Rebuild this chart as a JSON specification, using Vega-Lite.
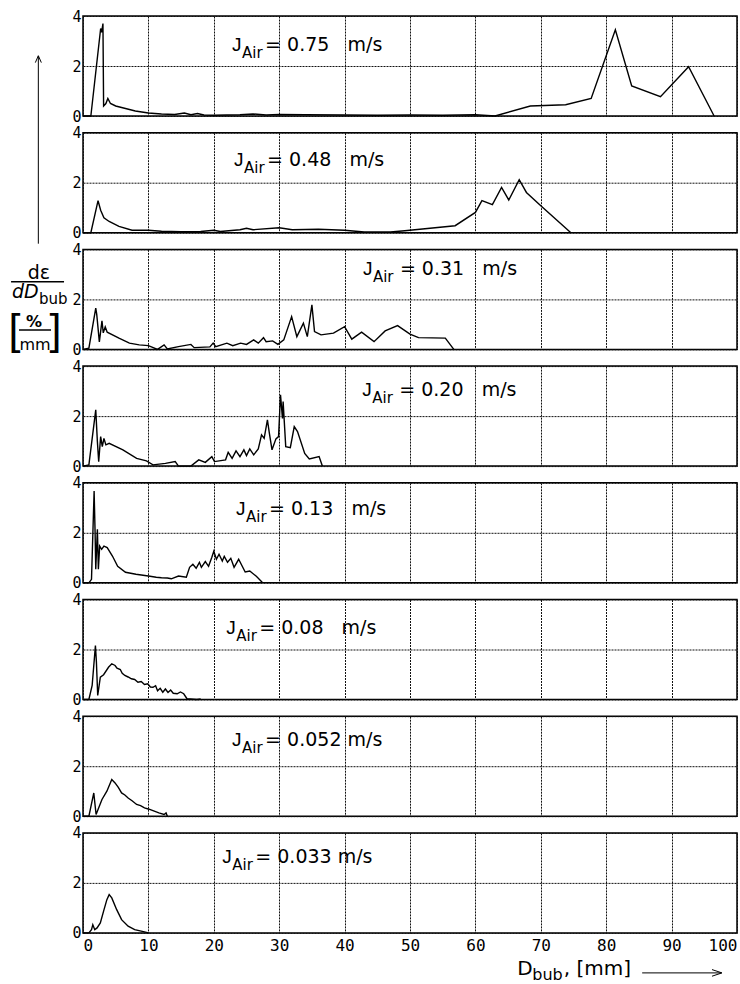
{
  "$schema": "https://vega.github.io/schema/vega-lite/v6.json",
  "background": "white",
  "padding": {"left": 7, "top": 8, "right": 0, "bottom": 0},
  "bounds": "flush",
  "spacing": 16.7,
  "config": {
    "view": {"stroke": "black", "strokeWidth": 1.5},
    "axis": {"gridColor": "#111", "gridDash": [2, 1], "gridWidth": 1, "domain": false, "ticks": false, "labelFont": "DejaVu Sans Mono", "labelColor": "black"},
    "axisY": {"labelFontSize": 15, "labelPadding": 2},
    "axisX": {"labelFontSize": 16, "labelPadding": 5, "labelFlush": true, "labelDx": 4},
    "text": {"font": "DejaVu Sans", "color": "black"},
    "line": {"color": "black", "strokeWidth": 1.4}
  },
  "datasets": {
    "p075": [{"d_bub":0,"density":0},{"d_bub":1.2,"density":0},{"d_bub":2.7,"density":3.5},{"d_bub":2.85,"density":3.35},{"d_bub":3.05,"density":3.7},{"d_bub":3.15,"density":0.4},{"d_bub":3.5,"density":0.5},{"d_bub":3.8,"density":0.7},{"d_bub":4.2,"density":0.5},{"d_bub":5,"density":0.4},{"d_bub":6.5,"density":0.3},{"d_bub":8,"density":0.2},{"d_bub":10,"density":0.12},{"d_bub":12,"density":0.08},{"d_bub":14,"density":0.06},{"d_bub":15.5,"density":0.12},{"d_bub":16.5,"density":0.05},{"d_bub":17.5,"density":0.1},{"d_bub":18.5,"density":0.04},{"d_bub":20,"density":0.03},{"d_bub":24,"density":0.05},{"d_bub":26,"density":0.08},{"d_bub":28,"density":0.04},{"d_bub":30,"density":0.06},{"d_bub":34,"density":0.05},{"d_bub":40,"density":0.04},{"d_bub":45,"density":0.03},{"d_bub":50,"density":0.04},{"d_bub":55,"density":0.03},{"d_bub":60,"density":0.05},{"d_bub":63,"density":0},{"d_bub":68.4,"density":0.4},{"d_bub":73.8,"density":0.45},{"d_bub":77.7,"density":0.7},{"d_bub":81.4,"density":3.45},{"d_bub":83.9,"density":1.2},{"d_bub":88.3,"density":0.77},{"d_bub":92.6,"density":1.97},{"d_bub":96.5,"density":0}],
    "p048": [{"d_bub":0,"density":0},{"d_bub":1.2,"density":0},{"d_bub":2.3,"density":1.28},{"d_bub":2.7,"density":0.9},{"d_bub":3.2,"density":0.6},{"d_bub":4,"density":0.45},{"d_bub":5.5,"density":0.25},{"d_bub":7.5,"density":0.1},{"d_bub":10,"density":0.1},{"d_bub":12,"density":0.06},{"d_bub":15,"density":0.04},{"d_bub":18,"density":0.05},{"d_bub":20,"density":0.1},{"d_bub":21,"density":0.05},{"d_bub":24,"density":0.12},{"d_bub":25,"density":0.18},{"d_bub":26,"density":0.12},{"d_bub":30,"density":0.2},{"d_bub":32,"density":0.12},{"d_bub":36,"density":0.14},{"d_bub":40,"density":0.1},{"d_bub":43,"density":0.03},{"d_bub":47,"density":0.03},{"d_bub":49.2,"density":0.08},{"d_bub":56.9,"density":0.28},{"d_bub":60,"density":0.81},{"d_bub":61,"density":1.28},{"d_bub":62.6,"density":1.12},{"d_bub":64,"density":1.81},{"d_bub":65.1,"density":1.31},{"d_bub":66.7,"density":2.12},{"d_bub":67.8,"density":1.61},{"d_bub":70,"density":1.08},{"d_bub":74.6,"density":0}],
    "p031": [{"d_bub":0,"density":0},{"d_bub":0.9,"density":0.05},{"d_bub":1.95,"density":1.65},{"d_bub":2.1,"density":1.4},{"d_bub":2.5,"density":0.3},{"d_bub":2.9,"density":1.14},{"d_bub":3.1,"density":0.66},{"d_bub":3.4,"density":0.9},{"d_bub":3.7,"density":0.69},{"d_bub":5.5,"density":0.45},{"d_bub":7.1,"density":0.25},{"d_bub":8.6,"density":0.18},{"d_bub":10,"density":0.15},{"d_bub":11.4,"density":0},{"d_bub":12.4,"density":0.18},{"d_bub":12.9,"density":0.02},{"d_bub":14.6,"density":0.11},{"d_bub":16.5,"density":0.2},{"d_bub":17,"density":0.07},{"d_bub":19.4,"density":0.1},{"d_bub":19.9,"density":0.25},{"d_bub":20.3,"density":0.11},{"d_bub":22,"density":0.25},{"d_bub":22.9,"density":0.15},{"d_bub":24.1,"density":0.25},{"d_bub":25,"density":0.2},{"d_bub":26.1,"density":0.38},{"d_bub":26.8,"density":0.25},{"d_bub":27.6,"density":0.47},{"d_bub":28,"density":0.31},{"d_bub":29,"density":0.34},{"d_bub":29.8,"density":0.2},{"d_bub":30.7,"density":0.38},{"d_bub":31.9,"density":1.31},{"d_bub":32.7,"density":0.51},{"d_bub":33.7,"density":1.05},{"d_bub":34.3,"density":0.51},{"d_bub":35,"density":1.78},{"d_bub":35.4,"density":0.71},{"d_bub":36.4,"density":0.58},{"d_bub":38.3,"density":0.65},{"d_bub":40,"density":0.91},{"d_bub":41.1,"density":0.41},{"d_bub":42.6,"density":0.69},{"d_bub":44.5,"density":0.31},{"d_bub":46.2,"density":0.74},{"d_bub":48.1,"density":0.95},{"d_bub":50,"density":0.61},{"d_bub":51.3,"density":0.47},{"d_bub":55.4,"density":0.45},{"d_bub":56.7,"density":0}],
    "p020": [{"d_bub":0,"density":0},{"d_bub":0.9,"density":0.05},{"d_bub":1.95,"density":2.25},{"d_bub":2.2,"density":0.98},{"d_bub":2.4,"density":0.18},{"d_bub":2.7,"density":1.18},{"d_bub":2.95,"density":0.78},{"d_bub":3.2,"density":1.11},{"d_bub":3.5,"density":0.85},{"d_bub":4,"density":0.91},{"d_bub":6.1,"density":0.65},{"d_bub":8.2,"density":0.31},{"d_bub":9.7,"density":0.21},{"d_bub":10.7,"density":0.05},{"d_bub":12.6,"density":0.11},{"d_bub":14.1,"density":0.18},{"d_bub":14.6,"density":0},{"d_bub":16.5,"density":0},{"d_bub":17.7,"density":0.25},{"d_bub":18.7,"density":0.15},{"d_bub":19.7,"density":0.38},{"d_bub":20.1,"density":0.18},{"d_bub":21.8,"density":0.25},{"d_bub":22.2,"density":0.55},{"d_bub":22.8,"density":0.31},{"d_bub":23.4,"density":0.61},{"d_bub":24,"density":0.38},{"d_bub":24.6,"density":0.65},{"d_bub":25,"density":0.42},{"d_bub":25.5,"density":0.69},{"d_bub":26.1,"density":0.45},{"d_bub":26.8,"density":0.69},{"d_bub":27.3,"density":1.25},{"d_bub":27.7,"density":1.11},{"d_bub":28.2,"density":1.85},{"d_bub":28.5,"density":1.31},{"d_bub":28.9,"density":0.65},{"d_bub":29.5,"density":1.09},{"d_bub":29.9,"density":1.18},{"d_bub":30.2,"density":2.85},{"d_bub":30.5,"density":1.91},{"d_bub":30.6,"density":2.58},{"d_bub":31,"density":0.78},{"d_bub":31.7,"density":0.74},{"d_bub":32.3,"density":1.58},{"d_bub":32.8,"density":1.38},{"d_bub":33.9,"density":0.51},{"d_bub":34.6,"density":0.29},{"d_bub":36.1,"density":0.38},{"d_bub":36.6,"density":0}],
    "p013": [{"d_bub":0,"density":0},{"d_bub":0.9,"density":0},{"d_bub":1.3,"density":0.14},{"d_bub":1.7,"density":3.67},{"d_bub":1.85,"density":2.0},{"d_bub":1.95,"density":0.54},{"d_bub":2.2,"density":2.14},{"d_bub":2.35,"density":0.54},{"d_bub":2.55,"density":1.47},{"d_bub":2.85,"density":1.34},{"d_bub":3.2,"density":1.47},{"d_bub":3.7,"density":1.41},{"d_bub":4.5,"density":1.07},{"d_bub":5.3,"density":0.66},{"d_bub":6.5,"density":0.42},{"d_bub":8.1,"density":0.34},{"d_bub":10,"density":0.27},{"d_bub":11.2,"density":0.22},{"d_bub":12,"density":0.2},{"d_bub":12.9,"density":0.19},{"d_bub":13.5,"density":0.16},{"d_bub":14.6,"density":0.27},{"d_bub":15.8,"density":0.22},{"d_bub":16.3,"density":0.62},{"d_bub":16.8,"density":0.74},{"d_bub":17.3,"density":0.58},{"d_bub":17.8,"density":0.82},{"d_bub":18.1,"density":0.62},{"d_bub":18.7,"density":0.85},{"d_bub":19.2,"density":0.66},{"d_bub":19.7,"density":1.02},{"d_bub":20,"density":1.26},{"d_bub":20.4,"density":0.94},{"d_bub":20.8,"density":1.14},{"d_bub":21.3,"density":0.87},{"d_bub":21.6,"density":1.06},{"d_bub":22.1,"density":0.82},{"d_bub":22.6,"density":0.98},{"d_bub":23.1,"density":0.62},{"d_bub":23.8,"density":0.94},{"d_bub":24.8,"density":0.43},{"d_bub":25.5,"density":0.47},{"d_bub":26.5,"density":0.26},{"d_bub":27.4,"density":0.02}],
    "p008": [{"d_bub":0,"density":0},{"d_bub":0.9,"density":0},{"d_bub":1.4,"density":0.56},{"d_bub":1.9,"density":2.16},{"d_bub":2.05,"density":1.5},{"d_bub":2.25,"density":0.16},{"d_bub":2.65,"density":0.89},{"d_bub":3.15,"density":0.99},{"d_bub":3.9,"density":1.29},{"d_bub":4.4,"density":1.43},{"d_bub":4.9,"density":1.36},{"d_bub":5.2,"density":1.25},{"d_bub":5.7,"density":1.2},{"d_bub":6.0,"density":1.05},{"d_bub":6.4,"density":0.96},{"d_bub":6.9,"density":0.9},{"d_bub":7.4,"density":0.83},{"d_bub":7.9,"density":0.8},{"d_bub":8.4,"density":0.69},{"d_bub":8.9,"density":0.72},{"d_bub":9.4,"density":0.6},{"d_bub":9.9,"density":0.63},{"d_bub":10.3,"density":0.5},{"d_bub":10.7,"density":0.49},{"d_bub":11.1,"density":0.55},{"d_bub":11.4,"density":0.35},{"d_bub":11.8,"density":0.45},{"d_bub":12.2,"density":0.29},{"d_bub":12.6,"density":0.42},{"d_bub":13.0,"density":0.28},{"d_bub":13.4,"density":0.38},{"d_bub":13.8,"density":0.25},{"d_bub":14.4,"density":0.23},{"d_bub":14.9,"density":0.3},{"d_bub":15.4,"density":0.23},{"d_bub":15.9,"density":0.03},{"d_bub":17.4,"density":0},{"d_bub":18,"density":0.02}],
    "p0052": [{"d_bub":0,"density":0},{"d_bub":0.9,"density":0},{"d_bub":1.65,"density":0.93},{"d_bub":2.0,"density":0.07},{"d_bub":2.9,"density":0.67},{"d_bub":3.65,"density":1.0},{"d_bub":4.4,"density":1.47},{"d_bub":4.9,"density":1.33},{"d_bub":5.4,"density":1.15},{"d_bub":5.9,"density":0.93},{"d_bub":6.4,"density":0.85},{"d_bub":6.9,"density":0.73},{"d_bub":7.5,"density":0.62},{"d_bub":8.2,"density":0.47},{"d_bub":8.8,"density":0.42},{"d_bub":9.4,"density":0.33},{"d_bub":10.1,"density":0.28},{"d_bub":10.9,"density":0.2},{"d_bub":11.6,"density":0.13},{"d_bub":12.4,"density":0.07},{"d_bub":12.7,"density":0.13},{"d_bub":12.9,"density":0}],
    "p0033": [{"d_bub":0,"density":0},{"d_bub":0.9,"density":0},{"d_bub":1.3,"density":0.13},{"d_bub":1.5,"density":0.33},{"d_bub":1.8,"density":0.13},{"d_bub":2.15,"density":0.2},{"d_bub":2.65,"density":0.4},{"d_bub":3.15,"density":0.87},{"d_bub":3.65,"density":1.33},{"d_bub":4.0,"density":1.53},{"d_bub":4.4,"density":1.4},{"d_bub":5.15,"density":0.93},{"d_bub":5.9,"density":0.53},{"d_bub":6.9,"density":0.27},{"d_bub":7.9,"density":0.13},{"d_bub":9.4,"density":0.04},{"d_bub":10,"density":0}]
  },
  "vconcat": [
    {"width": 654, "height": 100, "layer": [
      {"data": {"name": "p075"}, "mark": {"type": "line"}, "encoding": {
        "x": {"field": "d_bub", "type": "quantitative", "scale": {"domain": [0, 100], "nice": false}, "axis": {"values": [0,10,20,30,40,50,60,70,80,90,100], "labels": false, "title": null}},
        "y": {"field": "density", "type": "quantitative", "scale": {"domain": [0, 4], "nice": false}, "axis": {"values": [0,2,4], "title": null}}}},
      {"data": {"values": [{}]}, "mark": {"type": "text", "text": "J", "align": "left", "baseline": "alphabetic", "fontSize": 19, "font": "Liberation Sans"}, "encoding": {"x": {"datum": 22.8, "type": "quantitative", "scale": {"domain": [0, 100]}}, "y": {"datum": 2.6, "type": "quantitative", "scale": {"domain": [0, 4]}}}},
      {"data": {"values": [{}]}, "mark": {"type": "text", "text": "Air", "align": "left", "baseline": "alphabetic", "fontSize": 15, "dx": 10, "dy": 7}, "encoding": {"x": {"datum": 22.8, "type": "quantitative", "scale": {"domain": [0, 100]}}, "y": {"datum": 2.6, "type": "quantitative", "scale": {"domain": [0, 4]}}}},
      {"data": {"values": [{}]}, "mark": {"type": "text", "text": "= 0.75\u00a0\u00a0\u00a0m/s", "align": "left", "baseline": "alphabetic", "fontSize": 19, "dx": 33}, "encoding": {"x": {"datum": 22.8, "type": "quantitative", "scale": {"domain": [0, 100]}}, "y": {"datum": 2.6, "type": "quantitative", "scale": {"domain": [0, 4]}}}}
    ]},
    {"width": 654, "height": 100, "layer": [
      {"data": {"name": "p048"}, "mark": {"type": "line"}, "encoding": {
        "x": {"field": "d_bub", "type": "quantitative", "scale": {"domain": [0, 100], "nice": false}, "axis": {"values": [0,10,20,30,40,50,60,70,80,90,100], "labels": false, "title": null}},
        "y": {"field": "density", "type": "quantitative", "scale": {"domain": [0, 4], "nice": false}, "axis": {"values": [0,2,4], "title": null}}}},
      {"data": {"values": [{}]}, "mark": {"type": "text", "text": "J", "align": "left", "baseline": "alphabetic", "fontSize": 19, "font": "Liberation Sans"}, "encoding": {"x": {"datum": 23.1, "type": "quantitative", "scale": {"domain": [0, 100]}}, "y": {"datum": 2.65, "type": "quantitative", "scale": {"domain": [0, 4]}}}},
      {"data": {"values": [{}]}, "mark": {"type": "text", "text": "Air", "align": "left", "baseline": "alphabetic", "fontSize": 15, "dx": 10, "dy": 7}, "encoding": {"x": {"datum": 23.1, "type": "quantitative", "scale": {"domain": [0, 100]}}, "y": {"datum": 2.65, "type": "quantitative", "scale": {"domain": [0, 4]}}}},
      {"data": {"values": [{}]}, "mark": {"type": "text", "text": "= 0.48\u00a0\u00a0\u00a0m/s", "align": "left", "baseline": "alphabetic", "fontSize": 19, "dx": 33}, "encoding": {"x": {"datum": 23.1, "type": "quantitative", "scale": {"domain": [0, 100]}}, "y": {"datum": 2.65, "type": "quantitative", "scale": {"domain": [0, 4]}}}},
      {"data": {"values": [{}]}, "mark": {"type": "rule", "color": "black", "strokeWidth": 1, "clip": false}, "encoding": {"x": {"datum": -6.83, "type": "quantitative", "scale": {"domain": [0, 100]}}, "y": {"datum": -0.44, "type": "quantitative", "scale": {"domain": [0, 4]}}, "y2": {"datum": 7.06}}},
      {"data": {"values": [{}]}, "mark": {"type": "point", "shape": "M-1,2.3L0,0L1,2.3", "filled": false, "stroke": "black", "strokeWidth": 1, "opacity": 1, "size": 36, "clip": false}, "encoding": {"x": {"datum": -6.83, "type": "quantitative", "scale": {"domain": [0, 100]}}, "y": {"datum": 7.08, "type": "quantitative", "scale": {"domain": [0, 4]}}}}
    ]},
    {"width": 654, "height": 100, "layer": [
      {"data": {"name": "p031"}, "mark": {"type": "line"}, "encoding": {
        "x": {"field": "d_bub", "type": "quantitative", "scale": {"domain": [0, 100], "nice": false}, "axis": {"values": [0,10,20,30,40,50,60,70,80,90,100], "labels": false, "title": null}},
        "y": {"field": "density", "type": "quantitative", "scale": {"domain": [0, 4], "nice": false}, "axis": {"values": [0,2,4], "title": null}}}},
      {"data": {"values": [{}]}, "mark": {"type": "text", "text": "J", "align": "left", "baseline": "alphabetic", "fontSize": 19, "font": "Liberation Sans"}, "encoding": {"x": {"datum": 42.8, "type": "quantitative", "scale": {"domain": [0, 100]}}, "y": {"datum": 2.98, "type": "quantitative", "scale": {"domain": [0, 4]}}}},
      {"data": {"values": [{}]}, "mark": {"type": "text", "text": "Air", "align": "left", "baseline": "alphabetic", "fontSize": 15, "dx": 10, "dy": 7}, "encoding": {"x": {"datum": 42.8, "type": "quantitative", "scale": {"domain": [0, 100]}}, "y": {"datum": 2.98, "type": "quantitative", "scale": {"domain": [0, 4]}}}},
      {"data": {"values": [{}]}, "mark": {"type": "text", "text": "= 0.31\u00a0\u00a0\u00a0m/s", "align": "left", "baseline": "alphabetic", "fontSize": 19, "dx": 37}, "encoding": {"x": {"datum": 42.8, "type": "quantitative", "scale": {"domain": [0, 100]}}, "y": {"datum": 2.98, "type": "quantitative", "scale": {"domain": [0, 4]}}}},
      {"data": {"values": [{}]}, "mark": {"type": "text", "text": "dε", "align": "center", "baseline": "alphabetic", "fontSize": 19, "clip": false}, "encoding": {"x": {"datum": -6.73, "type": "quantitative", "scale": {"domain": [0, 100]}}, "y": {"datum": 2.82, "type": "quantitative", "scale": {"domain": [0, 4]}}}},
      {"data": {"values": [{}]}, "mark": {"type": "rule", "color": "black", "strokeWidth": 1.5, "clip": false}, "encoding": {"x": {"datum": -11.0, "type": "quantitative", "scale": {"domain": [0, 100]}}, "x2": {"datum": -2.9}, "y": {"datum": 2.71, "type": "quantitative", "scale": {"domain": [0, 4]}}}},
      {"data": {"values": [{}]}, "mark": {"type": "text", "text": "dD", "align": "left", "baseline": "alphabetic", "fontSize": 19, "fontStyle": "italic", "clip": false}, "encoding": {"x": {"datum": -10.86, "type": "quantitative", "scale": {"domain": [0, 100]}}, "y": {"datum": 2.06, "type": "quantitative", "scale": {"domain": [0, 4]}}}},
      {"data": {"values": [{}]}, "mark": {"type": "text", "text": "bub", "align": "left", "baseline": "alphabetic", "fontSize": 15, "clip": false}, "encoding": {"x": {"datum": -6.73, "type": "quantitative", "scale": {"domain": [0, 100]}}, "y": {"datum": 1.82, "type": "quantitative", "scale": {"domain": [0, 4]}}}},
      {"data": {"values": [{}]}, "mark": {"type": "text", "text": "[", "align": "center", "baseline": "alphabetic", "fontSize": 43, "font": "Liberation Sans", "clip": false}, "encoding": {"x": {"datum": -10.47, "type": "quantitative", "scale": {"domain": [0, 100]}}, "y": {"datum": 0.22, "type": "quantitative", "scale": {"domain": [0, 4]}}}},
      {"data": {"values": [{}]}, "mark": {"type": "text", "text": "]", "align": "center", "baseline": "alphabetic", "fontSize": 43, "font": "Liberation Sans", "clip": false}, "encoding": {"x": {"datum": -4.2, "type": "quantitative", "scale": {"domain": [0, 100]}}, "y": {"datum": 0.22, "type": "quantitative", "scale": {"domain": [0, 4]}}}},
      {"data": {"values": [{}]}, "mark": {"type": "text", "text": "%", "align": "center", "baseline": "alphabetic", "fontSize": 16, "fontWeight": "bold", "clip": false}, "encoding": {"x": {"datum": -7.49, "type": "quantitative", "scale": {"domain": [0, 100]}}, "y": {"datum": 0.9, "type": "quantitative", "scale": {"domain": [0, 4]}}}},
      {"data": {"values": [{}]}, "mark": {"type": "rule", "color": "black", "strokeWidth": 1.5, "clip": false}, "encoding": {"x": {"datum": -9.79, "type": "quantitative", "scale": {"domain": [0, 100]}}, "x2": {"datum": -4.89}, "y": {"datum": 0.78, "type": "quantitative", "scale": {"domain": [0, 4]}}}},
      {"data": {"values": [{}]}, "mark": {"type": "text", "text": "mm", "align": "center", "baseline": "alphabetic", "fontSize": 16, "clip": false}, "encoding": {"x": {"datum": -7.34, "type": "quantitative", "scale": {"domain": [0, 100]}}, "y": {"datum": -0.02, "type": "quantitative", "scale": {"domain": [0, 4]}}}}
    ]},
    {"width": 654, "height": 100, "layer": [
      {"data": {"name": "p020"}, "mark": {"type": "line"}, "encoding": {
        "x": {"field": "d_bub", "type": "quantitative", "scale": {"domain": [0, 100], "nice": false}, "axis": {"values": [0,10,20,30,40,50,60,70,80,90,100], "labels": false, "title": null}},
        "y": {"field": "density", "type": "quantitative", "scale": {"domain": [0, 4], "nice": false}, "axis": {"values": [0,2,4], "title": null}}}},
      {"data": {"values": [{}]}, "mark": {"type": "text", "text": "J", "align": "left", "baseline": "alphabetic", "fontSize": 19, "font": "Liberation Sans"}, "encoding": {"x": {"datum": 42.7, "type": "quantitative", "scale": {"domain": [0, 100]}}, "y": {"datum": 2.8, "type": "quantitative", "scale": {"domain": [0, 4]}}}},
      {"data": {"values": [{}]}, "mark": {"type": "text", "text": "Air", "align": "left", "baseline": "alphabetic", "fontSize": 15, "dx": 10, "dy": 7}, "encoding": {"x": {"datum": 42.7, "type": "quantitative", "scale": {"domain": [0, 100]}}, "y": {"datum": 2.8, "type": "quantitative", "scale": {"domain": [0, 4]}}}},
      {"data": {"values": [{}]}, "mark": {"type": "text", "text": "= 0.20\u00a0\u00a0\u00a0m/s", "align": "left", "baseline": "alphabetic", "fontSize": 19, "dx": 37}, "encoding": {"x": {"datum": 42.7, "type": "quantitative", "scale": {"domain": [0, 100]}}, "y": {"datum": 2.8, "type": "quantitative", "scale": {"domain": [0, 4]}}}}
    ]},
    {"width": 654, "height": 100, "layer": [
      {"data": {"name": "p013"}, "mark": {"type": "line"}, "encoding": {
        "x": {"field": "d_bub", "type": "quantitative", "scale": {"domain": [0, 100], "nice": false}, "axis": {"values": [0,10,20,30,40,50,60,70,80,90,100], "labels": false, "title": null}},
        "y": {"field": "density", "type": "quantitative", "scale": {"domain": [0, 4], "nice": false}, "axis": {"values": [0,2,4], "title": null}}}},
      {"data": {"values": [{}]}, "mark": {"type": "text", "text": "J", "align": "left", "baseline": "alphabetic", "fontSize": 19, "font": "Liberation Sans"}, "encoding": {"x": {"datum": 23.4, "type": "quantitative", "scale": {"domain": [0, 100]}}, "y": {"datum": 2.73, "type": "quantitative", "scale": {"domain": [0, 4]}}}},
      {"data": {"values": [{}]}, "mark": {"type": "text", "text": "Air", "align": "left", "baseline": "alphabetic", "fontSize": 15, "dx": 10, "dy": 7}, "encoding": {"x": {"datum": 23.4, "type": "quantitative", "scale": {"domain": [0, 100]}}, "y": {"datum": 2.73, "type": "quantitative", "scale": {"domain": [0, 4]}}}},
      {"data": {"values": [{}]}, "mark": {"type": "text", "text": "= 0.13\u00a0\u00a0\u00a0m/s", "align": "left", "baseline": "alphabetic", "fontSize": 19, "dx": 33}, "encoding": {"x": {"datum": 23.4, "type": "quantitative", "scale": {"domain": [0, 100]}}, "y": {"datum": 2.73, "type": "quantitative", "scale": {"domain": [0, 4]}}}}
    ]},
    {"width": 654, "height": 100, "layer": [
      {"data": {"name": "p008"}, "mark": {"type": "line"}, "encoding": {
        "x": {"field": "d_bub", "type": "quantitative", "scale": {"domain": [0, 100], "nice": false}, "axis": {"values": [0,10,20,30,40,50,60,70,80,90,100], "labels": false, "title": null}},
        "y": {"field": "density", "type": "quantitative", "scale": {"domain": [0, 4], "nice": false}, "axis": {"values": [0,2,4], "title": null}}}},
      {"data": {"values": [{}]}, "mark": {"type": "text", "text": "J", "align": "left", "baseline": "alphabetic", "fontSize": 19, "font": "Liberation Sans"}, "encoding": {"x": {"datum": 21.9, "type": "quantitative", "scale": {"domain": [0, 100]}}, "y": {"datum": 2.63, "type": "quantitative", "scale": {"domain": [0, 4]}}}},
      {"data": {"values": [{}]}, "mark": {"type": "text", "text": "Air", "align": "left", "baseline": "alphabetic", "fontSize": 15, "dx": 10, "dy": 7}, "encoding": {"x": {"datum": 21.9, "type": "quantitative", "scale": {"domain": [0, 100]}}, "y": {"datum": 2.63, "type": "quantitative", "scale": {"domain": [0, 4]}}}},
      {"data": {"values": [{}]}, "mark": {"type": "text", "text": "= 0.08\u00a0\u00a0\u00a0m/s", "align": "left", "baseline": "alphabetic", "fontSize": 19, "dx": 33}, "encoding": {"x": {"datum": 21.9, "type": "quantitative", "scale": {"domain": [0, 100]}}, "y": {"datum": 2.63, "type": "quantitative", "scale": {"domain": [0, 4]}}}}
    ]},
    {"width": 654, "height": 100, "layer": [
      {"data": {"name": "p0052"}, "mark": {"type": "line"}, "encoding": {
        "x": {"field": "d_bub", "type": "quantitative", "scale": {"domain": [0, 100], "nice": false}, "axis": {"values": [0,10,20,30,40,50,60,70,80,90,100], "labels": false, "title": null}},
        "y": {"field": "density", "type": "quantitative", "scale": {"domain": [0, 4], "nice": false}, "axis": {"values": [0,2,4], "title": null}}}},
      {"data": {"values": [{}]}, "mark": {"type": "text", "text": "J", "align": "left", "baseline": "alphabetic", "fontSize": 19, "font": "Liberation Sans"}, "encoding": {"x": {"datum": 22.8, "type": "quantitative", "scale": {"domain": [0, 100]}}, "y": {"datum": 2.8, "type": "quantitative", "scale": {"domain": [0, 4]}}}},
      {"data": {"values": [{}]}, "mark": {"type": "text", "text": "Air", "align": "left", "baseline": "alphabetic", "fontSize": 15, "dx": 10, "dy": 7}, "encoding": {"x": {"datum": 22.8, "type": "quantitative", "scale": {"domain": [0, 100]}}, "y": {"datum": 2.8, "type": "quantitative", "scale": {"domain": [0, 4]}}}},
      {"data": {"values": [{}]}, "mark": {"type": "text", "text": "= 0.052 m/s", "align": "left", "baseline": "alphabetic", "fontSize": 19, "dx": 33}, "encoding": {"x": {"datum": 22.8, "type": "quantitative", "scale": {"domain": [0, 100]}}, "y": {"datum": 2.8, "type": "quantitative", "scale": {"domain": [0, 4]}}}}
    ]},
    {"width": 654, "height": 100, "layer": [
      {"data": {"name": "p0033"}, "mark": {"type": "line"}, "encoding": {
        "x": {"field": "d_bub", "type": "quantitative", "scale": {"domain": [0, 100], "nice": false}, "axis": {"values": [0,10,20,30,40,50,60,70,80,90,100], "title": null}},
        "y": {"field": "density", "type": "quantitative", "scale": {"domain": [0, 4], "nice": false}, "axis": {"values": [0,2,4], "title": null}}}},
      {"data": {"values": [{}]}, "mark": {"type": "text", "text": "J", "align": "left", "baseline": "alphabetic", "fontSize": 19, "font": "Liberation Sans"}, "encoding": {"x": {"datum": 21.3, "type": "quantitative", "scale": {"domain": [0, 100]}}, "y": {"datum": 2.79, "type": "quantitative", "scale": {"domain": [0, 4]}}}},
      {"data": {"values": [{}]}, "mark": {"type": "text", "text": "Air", "align": "left", "baseline": "alphabetic", "fontSize": 15, "dx": 10, "dy": 7}, "encoding": {"x": {"datum": 21.3, "type": "quantitative", "scale": {"domain": [0, 100]}}, "y": {"datum": 2.79, "type": "quantitative", "scale": {"domain": [0, 4]}}}},
      {"data": {"values": [{}]}, "mark": {"type": "text", "text": "= 0.033 m/s", "align": "left", "baseline": "alphabetic", "fontSize": 19, "dx": 33}, "encoding": {"x": {"datum": 21.3, "type": "quantitative", "scale": {"domain": [0, 100]}}, "y": {"datum": 2.79, "type": "quantitative", "scale": {"domain": [0, 4]}}}},
      {"data": {"values": [{}]}, "mark": {"type": "text", "text": "D", "align": "left", "baseline": "alphabetic", "fontSize": 20, "clip": false}, "encoding": {"x": {"datum": 66.4, "type": "quantitative", "scale": {"domain": [0, 100]}}, "y": {"datum": -1.68, "type": "quantitative", "scale": {"domain": [0, 4]}}}},
      {"data": {"values": [{}]}, "mark": {"type": "text", "text": "bub", "align": "left", "baseline": "alphabetic", "fontSize": 16, "clip": false}, "encoding": {"x": {"datum": 68.7, "type": "quantitative", "scale": {"domain": [0, 100]}}, "y": {"datum": -1.9, "type": "quantitative", "scale": {"domain": [0, 4]}}}},
      {"data": {"values": [{}]}, "mark": {"type": "text", "text": ", [mm]", "align": "left", "baseline": "alphabetic", "fontSize": 20, "clip": false}, "encoding": {"x": {"datum": 73.5, "type": "quantitative", "scale": {"domain": [0, 100]}}, "y": {"datum": -1.68, "type": "quantitative", "scale": {"domain": [0, 4]}}}},
      {"data": {"values": [{}]}, "mark": {"type": "rule", "color": "black", "strokeWidth": 1, "clip": false}, "encoding": {"x": {"datum": 85.5, "type": "quantitative", "scale": {"domain": [0, 100]}}, "x2": {"datum": 97.6}, "y": {"datum": -1.6, "type": "quantitative", "scale": {"domain": [0, 4]}}}},
      {"data": {"values": [{}]}, "mark": {"type": "point", "shape": "M-3,-1L0,0L-3,1", "filled": false, "stroke": "black", "strokeWidth": 1, "opacity": 1, "size": 44, "clip": false}, "encoding": {"x": {"datum": 97.7, "type": "quantitative", "scale": {"domain": [0, 100]}}, "y": {"datum": -1.6, "type": "quantitative", "scale": {"domain": [0, 4]}}}}
    ]}
  ]
}
